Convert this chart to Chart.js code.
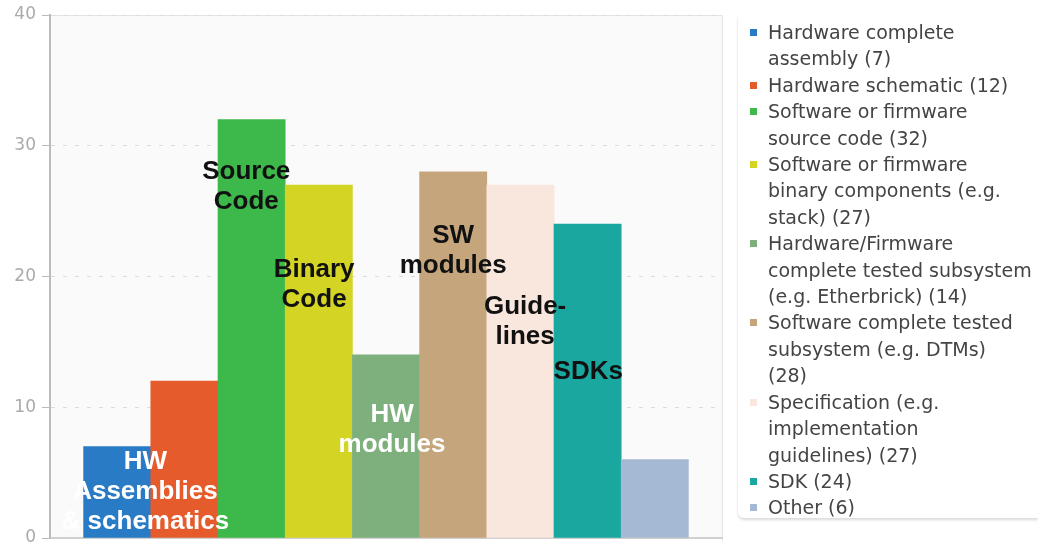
<!DOCTYPE html>
<html>
<head>
<meta charset="utf-8">
<script src="https://cdn.jsdelivr.net/npm/chart.js@4/dist/chart.umd.min.js"></script>
<style>
  html, body { margin: 0; padding: 0; background: #fff; }
  #wrap { position: relative; width: 1038px; height: 547px; }
  #legend {
    position: absolute; left: 738px; top: 15px; width: 300px; height: 503px;
    box-shadow: 0 2px 3px rgba(0,0,0,0.15); border-bottom-left-radius: 6px;
    font-family: "DejaVu Sans", sans-serif; font-size: 19px; color: #444;
    line-height: 26.4px; padding-top: 4px; box-sizing: border-box;
  }
  .item { position: relative; padding-left: 30px; white-space: pre-line; }
  .item i { position: absolute; left: 12px; top: 10px; width: 7px; height: 7px; }
</style>
</head>
<body>
<div id="wrap">
  <canvas id="chart"></canvas>
  <div id="legend"></div>
</div>
<script>
// bar categories and counts
const categories = ['HW assembly', 'HW schematic', 'Source code', 'Binary components',
  'HW/FW subsystem', 'SW subsystem', 'Specification', 'SDK', 'Other'];
const values = [7, 12, 32, 27, 14, 28, 27, 24, 6];
const colors = ['#2a7bc6', '#e65b2b', '#3db84a', '#d4d425', '#7eb07e',
  '#c5a57c', '#f9e6dd', '#1aa79f', '#a5b9d5'];
const legendNames = [
  'Hardware complete\nassembly',
  'Hardware schematic',
  'Software or firmware\nsource code',
  'Software or firmware\nbinary components (e.g.\nstack)',
  'Hardware/Firmware\ncomplete tested subsystem\n(e.g. Etherbrick)',
  'Software complete tested\nsubsystem (e.g. DTMs)\n',
  'Specification (e.g.\nimplementation\nguidelines)',
  'SDK',
  'Other'
];
const yTicks = [0, 10, 20, 30, 40];

// big labels written over the bars (data coords of first line)
const notes = [
  { lines: ['HW', 'Assemblies', '& schematics'], x: 1.42, y: 5.8, color: '#fff' },
  { lines: ['Source', 'Code'], x: 2.92, y: 28.0, color: '#111' },
  { lines: ['Binary', 'Code'], x: 3.93, y: 20.5, color: '#111' },
  { lines: ['HW', 'modules'], x: 5.09, y: 9.4, color: '#fff' },
  { lines: ['SW', 'modules'], x: 6.0, y: 23.1, color: '#111' },
  { lines: ['Guide-', 'lines'], x: 7.07, y: 17.7, color: '#111' },
  { lines: ['SDKs'], x: 8.01, y: 12.7, color: '#111' }
];

const areaPlugin = {
  id: 'area',
  beforeDraw(chart) {
    const a = chart.chartArea, ctx = chart.ctx;
    ctx.save();
    ctx.fillStyle = '#fafafa';
    ctx.fillRect(a.left, a.top, a.right - a.left, a.bottom - a.top);
    ctx.strokeStyle = '#e4e4e4';
    ctx.lineWidth = 1;
    ctx.beginPath();
    ctx.moveTo(a.left, a.top + 0.5); ctx.lineTo(a.right + 0.5, a.top + 0.5);
    ctx.lineTo(a.right + 0.5, a.bottom + 3);
    ctx.stroke();
    ctx.restore();
  },
  afterDatasetsDraw(chart) {
    const ctx = chart.ctx, xs = chart.scales.x, ys = chart.scales.y;
    ctx.save();
    ctx.font = 'bold 26px "Liberation Sans", Arial, sans-serif';
    ctx.textAlign = 'center';
    ctx.textBaseline = 'middle';
    notes.forEach(n => {
      const px = xs.getPixelForValue(n.x), py = ys.getPixelForValue(n.y);
      ctx.fillStyle = n.color;
      n.lines.forEach((t, i) => ctx.fillText(t, px, py + i * 30));
    });
    ctx.restore();
  }
};

new Chart(document.getElementById('chart'), {
  type: 'bar',
  data: {
    labels: categories,
    datasets: [{
      data: values.map((v, i) => ({ x: i + 1, y: v })),
      backgroundColor: colors,
      borderWidth: 0,
      barPercentage: 1,
      categoryPercentage: 1
    }]
  },
  options: {
    responsive: true,
    maintainAspectRatio: false,
    animation: false,
    layout: { padding: { top: 15, right: 316, bottom: 9, left: 0 } },
    plugins: { legend: { display: false }, tooltip: { enabled: false } },
    scales: {
      x: {
        type: 'linear', min: 0, max: 10, offset: false,
        ticks: { display: false, stepSize: 1 },
        grid: { display: false },
        border: { display: true, color: '#d0d0d0', width: 2 },
        afterFit: s => { s.height = 0; s.paddingLeft = 0; s.paddingRight = 0; }
      },
      y: {
        min: 0, max: 40,
        afterBuildTicks: s => { s.ticks = yTicks.map(v => ({ value: v })); },
        ticks: { color: '#aaa', padding: 6, font: { family: 'DejaVu Sans', size: 17 } },
        grid: { color: '#dcdcdc', tickColor: '#bbb', tickLength: 8 },
        border: { display: true, color: '#bbb', width: 2, dash: [4, 8] },
        afterFit: s => { s.width = 50; s.paddingTop = 0; s.paddingBottom = 0; }
      }
    }
  },
  plugins: [areaPlugin]
});

const legend = document.getElementById('legend');
legendNames.forEach((name, i) => {
  const d = document.createElement('div');
  d.className = 'item';
  const text = name.endsWith('\n') ? name + '(' + values[i] + ')' : name + ' (' + values[i] + ')';
  d.innerHTML = '<i style="background:' + colors[i] + '"></i>';
  d.appendChild(document.createTextNode(text));
  legend.appendChild(d);
});
</script>
</body>
</html>
